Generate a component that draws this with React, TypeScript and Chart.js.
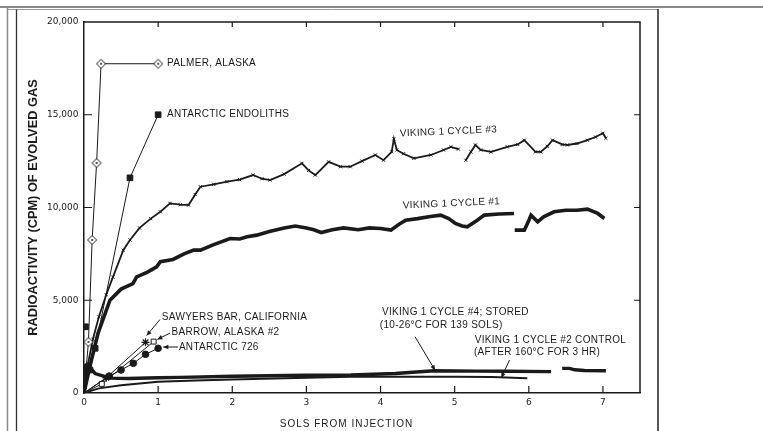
import React, { useEffect, useRef } from 'react';
import { Chart, registerables } from 'chart.js';

Chart.register(...registerables);

// ---------- data (sols, cpm) ----------
const xTickValues = [0, 1, 2, 3, 4, 5, 6, 7];
const yTickValues = [0, 5000, 10000, 15000, 20000];

const palmerSols = [0, 0.06, 0.11, 0.17, 0.23, 1.0];
const palmerCpm = [0, 2750, 8250, 12400, 17750, 17750];

const endolithSols = [0, 0.08, 0.15, 0.62, 1.0];
const endolithCpm = [0, 1240, 2410, 11600, 15000];
const endolithExtraSols = [0.02];
const endolithExtraCpm = [3570];

const sawyersSols = [0, 0.3, 0.83];
const sawyersCpm = [0, 820, 2730];

const barrowSols = [0, 0.24, 0.94];
const barrowCpm = [0, 490, 2770];

const ant726Sols = [0, 0.34, 0.5, 0.665, 0.83, 1.0];
const ant726Cpm = [0, 915, 1240, 1600, 2085, 2410];

const cycle3Sols = [
  0, 0.05, 0.12, 0.2, 0.3, 0.39, 0.53, 0.62, 0.75, 0.9, 1.03, 1.16, 1.3, 1.41, 1.5, 1.57,
  1.75, 1.93, 2.1, 2.28, 2.4, 2.51, 2.7, 2.94, 3.03, 3.12, 3.3, 3.46, 3.59, 3.75, 3.93,
  4.04, 4.15, 4.18, 4.22, 4.31, 4.45, 4.68, 4.85, 4.95, 5.05, 5.1, 5.15, 5.22, 5.28,
  5.35, 5.49, 5.71, 5.85, 5.94, 6.09, 6.16, 6.25, 6.32, 6.45, 6.52, 6.65, 6.79, 6.9,
  7.0, 7.04,
];
const cycle3Cpm = [
  0, 1500, 2900, 4100, 5300, 6250, 7700, 8250, 8900, 9400, 9770, 10220, 10150, 10130,
  10700, 11120, 11250, 11390, 11500, 11750, 11550, 11480, 11800, 12380, 12000, 11750,
  12460, 12200, 12200, 12500, 12830, 12550, 13000, 13700, 13100, 12900, 12650, 12830,
  13100, 13270, 13150, null, 12550, 13000, 13370, 13100, 13000, 13270, 13400, 13630,
  13000, 13000, 13300, 13630, 13400, 13370, 13450, 13630, 13800, 14000, 13730,
];

const cycle1Sols = [
  0, 0.05, 0.1, 0.19, 0.35, 0.5, 0.66, 0.71, 0.85, 0.98, 1.03, 1.2, 1.35, 1.48, 1.57, 1.75,
  1.97, 2.1, 2.2, 2.33, 2.5, 2.7, 2.85, 3.0, 3.1, 3.2, 3.35, 3.5, 3.7, 3.85, 4.0, 4.14,
  4.25, 4.34, 4.5, 4.65, 4.81, 4.92, 5.01, 5.1, 5.17, 5.3, 5.4, 5.6, 5.8, 5.805, 5.81,
  5.94, 6.0, 6.03, 6.12, 6.2, 6.34, 6.5, 6.65, 6.79, 6.93, 7.02,
];
const cycle1Cpm = [
  0, 900, 1780, 3230, 5000, 5600, 5900, 6260, 6500, 6800, 7080, 7200, 7500, 7700, 7700,
  8000, 8330, 8300, 8420, 8510, 8700, 8900, 9000, 8900, 8800, 8650, 8800, 8900, 8800,
  8900, 8870, 8780, 9100, 9320, 9400, 9500, 9590, 9400, 9140, 9000, 8960, 9300, 9590,
  9650, 9680, null, 8780, 8780, 9300, 9590, 9230, 9500, 9770, 9850, 9850, 9910, 9680, 9410,
];

const cycle4Sols = [
  0, 0.02, 0.05, 0.15, 0.35, 0.6, 1.0, 1.3, 2.0, 3.0, 3.6, 4.2, 4.72, 5.3, 5.7, 6.3,
  6.38, 6.45, 6.55, 6.62, 6.75, 7.04,
];
const cycle4Cpm = [
  0, 1500, 1550, 1050, 800, 780, 820, 840, 900, 960, 970, 1050, 1200, 1180, 1170, 1150,
  null, 1330, 1330, 1250, 1210, 1200,
];

const cycle2Sols = [0, 0.2, 0.5, 1.0, 1.5, 2.0, 3.0, 3.6, 4.5, 5.0, 5.5, 5.98];
const cycle2Cpm = [0, 250, 420, 600, 680, 730, 820, 880, 880, 880, 860, 790];

// ---------- annotation text & anchors (data units) ----------
const labelAnchors = [
  { text: 'PALMER, ALASKA', x: 1.12, y: 17790, rot: 0 },
  { text: 'ANTARCTIC ENDOLITHS', x: 1.12, y: 15040, rot: 0 },
  { text: 'VIKING 1 CYCLE #3', x: 4.26, y: 13980, rot: -2.5 },
  { text: 'VIKING 1 CYCLE #1', x: 4.3, y: 10100, rot: -2.5 },
  { text: 'SAWYERS BAR, CALIFORNIA', x: 1.05, y: 4080, rot: 0 },
  { text: 'BARROW, ALASKA #2', x: 1.18, y: 3250, rot: 0 },
  { text: 'ANTARCTIC 726', x: 1.28, y: 2480, rot: 0 },
  { text: 'VIKING 1 CYCLE #4; STORED', x: 4.02, y: 4330, rot: 0 },
  { text: '(10-26°C FOR 139 SOLS)', x: 3.99, y: 3670, rot: 0 },
  { text: 'VIKING 1 CYCLE #2 CONTROL', x: 5.27, y: 2860, rot: 0 },
  { text: '(AFTER 160°C FOR 3 HR)', x: 5.26, y: 2190, rot: 0 },
];
const arrowAnchors = [
  { from: [1.025, 3960], to: [0.845, 3100] },
  { from: [1.16, 3230], to: [0.99, 2890] },
  { from: [1.27, 2480], to: [1.07, 2480] },
  { from: [4.465, 3035], to: [4.735, 1230] },
  { from: [5.74, 1780], to: [5.63, 820] },
];

const yTitle = 'RADIOACTIVITY (CPM) OF EVOLVED GAS';
const xTitle = 'SOLS FROM INJECTION';

const INK = '#1a1a1a';
const SANS = '"Liberation Sans", Arial, sans-serif';
const TICKFONT = '"DejaVu Sans", sans-serif';

const pts = (xs: number[], ys: (number | null)[]) => xs.map((x, i) => ({ x, y: ys[i] }));
const radii = (n: number, r: number) => Array.from({ length: n }, (_, i) => (i === 0 ? 0 : r));

function makeDiamondDot(r: number): HTMLCanvasElement {
  const c = document.createElement('canvas');
  const s = Math.ceil(r * 2 + 3);
  c.width = s;
  c.height = s;
  const g = c.getContext('2d')!;
  g.translate(s / 2, s / 2);
  g.beginPath();
  g.moveTo(0, -r);
  g.lineTo(r, 0);
  g.lineTo(0, r);
  g.lineTo(-r, 0);
  g.closePath();
  g.fillStyle = '#fff';
  g.fill();
  g.strokeStyle = INK;
  g.lineWidth = 1;
  g.stroke();
  g.beginPath();
  g.arc(0, 0, 1, 0, Math.PI * 2);
  g.fillStyle = INK;
  g.fill();
  return c;
}

const decorPlugin = {
  id: 'decor',
  beforeDraw(chart: any) {
    const { ctx, width, height } = chart;
    ctx.save();
    // outer scan frame
    ctx.strokeStyle = '#8a8a8a';
    ctx.lineWidth = 2;
    ctx.beginPath();
    ctx.moveTo(0, 7);
    ctx.lineTo(width, 7);
    ctx.stroke();
    ctx.lineWidth = 1.5;
    ctx.beginPath();
    ctx.moveTo(7.5, 7);
    ctx.lineTo(7.5, height);
    ctx.stroke();
    ctx.strokeStyle = '#9a9a9a';
    ctx.lineWidth = 1;
    ctx.beginPath();
    ctx.moveTo(7.5, 9.5);
    ctx.lineTo(658, 9.5);
    ctx.stroke();
    ctx.strokeStyle = '#333';
    ctx.lineWidth = 1.3;
    ctx.beginPath();
    ctx.moveTo(16.5, 9.5);
    ctx.lineTo(16.5, height);
    ctx.stroke();
    ctx.strokeStyle = '#222';
    ctx.lineWidth = 1.5;
    ctx.beginPath();
    ctx.moveTo(658, 9);
    ctx.lineTo(658, height);
    ctx.stroke();
    ctx.restore();
  },
  afterDraw(chart: any) {
    const { ctx, chartArea: a, scales } = chart;
    const xs = scales.x;
    const ys = scales.y;
    ctx.save();
    // top and right sides of the plot box
    ctx.strokeStyle = INK;
    ctx.lineWidth = 1.5;
    ctx.beginPath();
    ctx.moveTo(a.left, a.top);
    ctx.lineTo(a.right, a.top);
    ctx.lineTo(a.right, a.bottom);
    ctx.stroke();
    // inward ticks
    ctx.lineWidth = 1.2;
    ctx.beginPath();
    for (const v of xTickValues) {
      if (v === 0) continue;
      const px = xs.getPixelForValue(v);
      ctx.moveTo(px, a.bottom);
      ctx.lineTo(px, a.bottom - 7);
      ctx.moveTo(px, a.top);
      ctx.lineTo(px, a.top + 5);
    }
    for (const v of yTickValues) {
      if (v === 0 || v === 20000) continue;
      const py = ys.getPixelForValue(v);
      ctx.moveTo(a.left, py);
      ctx.lineTo(a.left + 8, py);
      ctx.moveTo(a.right, py);
      ctx.lineTo(a.right - 6, py);
    }
    ctx.stroke();

    // annotations
    ctx.fillStyle = INK;
    ctx.font = `10px ${SANS}`;
    (ctx as any).letterSpacing = '0.3px';
    ctx.textAlign = 'left';
    ctx.textBaseline = 'middle';
    for (const l of labelAnchors) {
      const px = xs.getPixelForValue(l.x);
      const py = ys.getPixelForValue(l.y);
      ctx.save();
      ctx.translate(px, py);
      ctx.rotate((l.rot * Math.PI) / 180);
      ctx.fillText(l.text, 0, 0);
      ctx.restore();
    }
    // arrows
    ctx.strokeStyle = INK;
    ctx.lineWidth = 1;
    for (const ar of arrowAnchors) {
      const x1 = xs.getPixelForValue(ar.from[0]);
      const y1 = ys.getPixelForValue(ar.from[1]);
      const x2 = xs.getPixelForValue(ar.to[0]);
      const y2 = ys.getPixelForValue(ar.to[1]);
      ctx.beginPath();
      ctx.moveTo(x1, y1);
      ctx.lineTo(x2, y2);
      ctx.stroke();
      const ang = Math.atan2(y2 - y1, x2 - x1);
      const L = 5;
      const W = 2.3;
      ctx.beginPath();
      ctx.moveTo(x2, y2);
      ctx.lineTo(x2 - L * Math.cos(ang) + W * Math.sin(ang), y2 - L * Math.sin(ang) - W * Math.cos(ang));
      ctx.lineTo(x2 - L * Math.cos(ang) - W * Math.sin(ang), y2 - L * Math.sin(ang) + W * Math.cos(ang));
      ctx.closePath();
      ctx.fill();
    }
    // x axis title
    (ctx as any).letterSpacing = '1px';
    ctx.font = `10px ${SANS}`;
    ctx.textAlign = 'center';
    ctx.fillText(xTitle, a.left + (a.right - a.left) * 0.472, a.bottom + 31);
    (ctx as any).letterSpacing = '0px';
    ctx.restore();
  },
};

export default function App() {
  const ref = useRef<HTMLCanvasElement | null>(null);

  useEffect(() => {
    if (!ref.current) return;
    const diamond = makeDiamondDot(4.5);
    const lineBase = {
      showLine: true,
      borderColor: INK,
      backgroundColor: INK,
      spanGaps: false,
      tension: 0,
    };
    const chart = new Chart(ref.current, {
      type: 'scatter',
      data: {
        datasets: [
          {
            ...lineBase,
            label: 'Palmer, Alaska',
            data: pts(palmerSols, palmerCpm),
            borderWidth: 1,
            pointStyle: diamond as any,
            pointRadius: radii(palmerSols.length, 4.5),
          },
          {
            ...lineBase,
            label: 'Antarctic endoliths',
            data: pts(endolithSols, endolithCpm),
            borderWidth: 1,
            pointStyle: 'rect',
            pointRadius: radii(endolithSols.length, 4),
          },
          {
            ...lineBase,
            showLine: false,
            label: 'Antarctic endoliths (early)',
            data: pts(endolithExtraSols, endolithExtraCpm),
            pointStyle: 'rect',
            pointRadius: 4,
          },
          {
            ...lineBase,
            label: 'Sawyers Bar, California',
            data: pts(sawyersSols, sawyersCpm),
            borderWidth: 1,
            pointStyle: 'star',
            pointRadius: radii(sawyersSols.length, 4),
            pointBorderWidth: 1.2,
          },
          {
            ...lineBase,
            label: 'Barrow, Alaska #2',
            data: pts(barrowSols, barrowCpm),
            borderWidth: 1,
            pointStyle: 'rect',
            pointBackgroundColor: '#fff',
            pointBorderWidth: 1,
            pointRadius: radii(barrowSols.length, 3.5),
          },
          {
            ...lineBase,
            label: 'Antarctic 726',
            data: pts(ant726Sols, ant726Cpm),
            borderWidth: 1,
            pointStyle: 'circle',
            pointRadius: radii(ant726Sols.length, 3.3),
          },
          {
            ...lineBase,
            label: 'Viking 1 cycle #3',
            data: pts(cycle3Sols, cycle3Cpm),
            borderWidth: 1.8,
            pointStyle: 'crossRot',
            pointRadius: 2.2,
            pointBorderWidth: 1,
          },
          {
            ...lineBase,
            label: 'Viking 1 cycle #1',
            data: pts(cycle1Sols, cycle1Cpm),
            borderWidth: 3.6,
            pointRadius: 0,
          },
          {
            ...lineBase,
            label: 'Viking 1 cycle #4; stored',
            data: pts(cycle4Sols, cycle4Cpm),
            borderWidth: 3.4,
            pointRadius: 0,
          },
          {
            ...lineBase,
            label: 'Viking 1 cycle #2 control',
            data: pts(cycle2Sols, cycle2Cpm),
            borderWidth: 2,
            pointRadius: 0,
          },
        ],
      },
      options: {
        animation: false,
        responsive: false,
        devicePixelRatio: 1,
        layout: { padding: { left: 0, top: 22, right: 123, bottom: 0 } },
        plugins: {
          legend: { display: false },
          tooltip: { enabled: false },
        },
        scales: {
          x: {
            type: 'linear',
            min: 0,
            max: 7.5,
            afterFit: (s: any) => {
              s.height = 38;
            },
            grid: { display: false, drawTicks: false },
            border: { display: true, color: INK, width: 1.5 },
            ticks: {
              stepSize: 1,
              includeBounds: false,
              maxRotation: 0,
              autoSkip: false,
              padding: 4,
              color: INK,
              font: { family: TICKFONT, size: 9 },
            },
          },
          y: {
            type: 'linear',
            min: 0,
            max: 20000,
            afterFit: (s: any) => {
              s.width = 84;
            },
            grid: { display: false, drawTicks: false },
            border: { display: true, color: INK, width: 1.5 },
            ticks: {
              stepSize: 5000,
              padding: 5.5,
              color: INK,
              font: { family: TICKFONT, size: 9 },
              callback: (v: any) => Number(v).toLocaleString('en-US'),
            },
            title: {
              display: true,
              text: yTitle,
              color: INK,
              font: { family: SANS, size: 12.8, weight: 'bold' },
              padding: { top: 26, bottom: 0 },
            },
          },
        },
      },
      plugins: [decorPlugin],
    } as any);
    return () => chart.destroy();
  }, []);

  return (
    <div style={{ position: 'absolute', left: 0, top: 0, width: 763, height: 431, background: '#fff' }}>
      <canvas ref={ref} width={763} height={431} style={{ display: 'block', width: 763, height: 431 }} />
    </div>
  );
}
